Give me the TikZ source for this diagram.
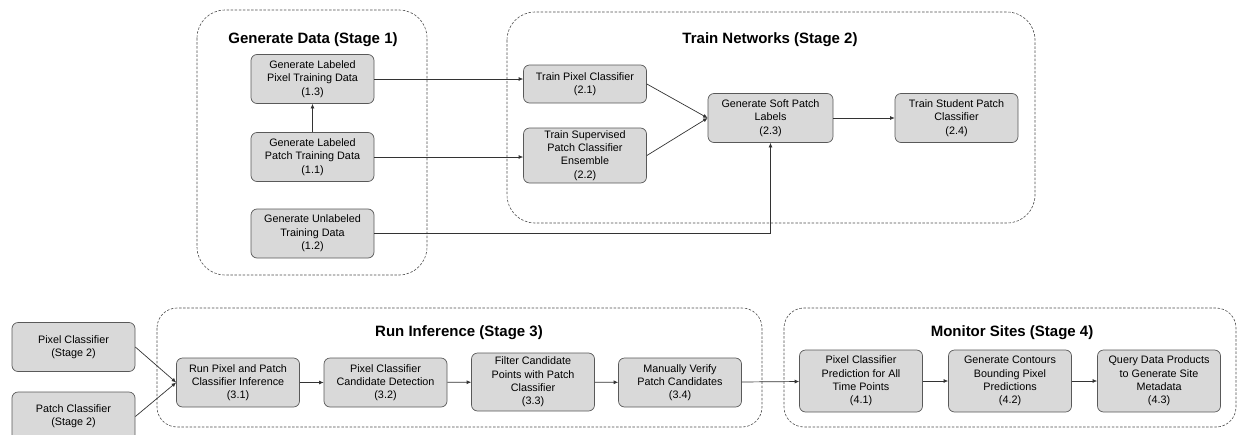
\documentclass[tikz,border=0pt]{standalone}
\usepackage{fontspec}
\setmainfont{Liberation Sans}
\usetikzlibrary{arrows.meta}

\begin{document}
\begin{tikzpicture}[x=1pt, y=-1pt,
    stepbox/.style={draw=black!65, fill=black!15, line width=0.7pt, rounded corners=6pt,
      align=center, minimum width=123pt, minimum height=49pt, inner sep=2pt,
      font=\fontsize{10.8}{13.3}\selectfont},
    stagebox/.style={draw=black!70, dash pattern=on 2.5pt off 1.6pt, line width=0.6pt},
    stagetitle/.style={font=\fontsize{15}{18}\selectfont\bfseries},
    flow/.style={draw=black!80, line width=0.7pt, -{Latex[length=4.5pt,width=4pt]}}]
  \clip (0,0) rectangle (1238,434);
  \useasboundingbox (0,0) rectangle (1238,434);
  % stage frames
  \draw[stagebox, rounded corners=28pt] (197,10) rectangle (427,275);
  \draw[stagebox, rounded corners=28pt] (507,12) rectangle (1035,223);
  \draw[stagebox, rounded corners=20pt] (157,308) rectangle (762,427);
  \draw[stagebox, rounded corners=20pt] (784,308) rectangle (1236,427);
  \node[stagetitle] (title1) at (313,40) {Generate Data (Stage 1)};
  \node[stagetitle] (title2) at (770,40) {Train Networks (Stage 2)};
  \node[stagetitle] (title3) at (459,333) {Run Inference (Stage 3)};
  \node[stagetitle] (title4) at (1012,333) {Monitor Sites (Stage 4)};
  % stage 1
  \node[stepbox] (gen13) at (312.5,79) {Generate Labeled\\Pixel Training Data\\(1.3)};
  \node[stepbox] (gen11) at (312.5,157) {Generate Labeled\\Patch Training Data\\(1.1)};
  \node[stepbox] (gen12) at (312.5,233.5) {Generate Unlabeled\\Training Data\\(1.2)};
  % stage 2
  \node[stepbox, minimum height=38pt] (pix21) at (585,84) {Train Pixel Classifier\\(2.1)};
  \node[stepbox, minimum height=55pt] (sup22) at (585,155.5) {Train Supervised\\Patch Classifier\\Ensemble\\(2.2)};
  \node[stepbox, minimum width=125pt] (soft23) at (770.5,118) {Generate Soft Patch\\Labels\\(2.3)};
  \node[stepbox] (stu24) at (956.5,118) {Train Student Patch\\Classifier\\(2.4)};
  % stage 3
  \node[stepbox] (pixcls) at (73.5,347) {Pixel Classifier\\(Stage 2)};
  \node[stepbox] (patcls) at (73.5,416.5) {Patch Classifier\\(Stage 2)};
  \node[stepbox] (run31) at (238,382.5) {Run Pixel and Patch\\Classifier Inference\\(3.1)};
  \node[stepbox] (det32) at (385.5,382.5) {Pixel Classifier\\Candidate Detection\\(3.2)};
  \node[stepbox, minimum height=58pt] (filt33) at (533,382) {Filter Candidate\\Points with Patch\\Classifier\\(3.3)};
  \node[stepbox] (ver34) at (680,382.5) {Manually Verify\\Patch Candidates\\(3.4)};
  % stage 4
  \node[stepbox, minimum height=62pt] (pred41) at (861,381) {Pixel Classifier\\Prediction for All\\Time Points\\(4.1)};
  \node[stepbox, minimum height=62pt] (cont42) at (1010,381) {Generate Contours\\Bounding Pixel\\Predictions\\(4.2)};
  \node[stepbox, minimum height=62pt] (query43) at (1159,381) {Query Data Products\\to Generate Site\\Metadata\\(4.3)};
  % connectors
  \draw[flow] (gen11.north) -- (gen13.south);
  \draw[flow] (gen13.east) -- (gen13.east -| pix21.west);
  \draw[flow] (gen11.east) -- (gen11.east -| sup22.west);
  \draw[flow] (gen12.east) -- (gen12.east -| soft23.south) -- (soft23.south);
  \draw[flow] (pix21.east) -- (soft23.west);
  \draw[flow] (sup22.east) -- (soft23.west);
  \draw[flow] (soft23.east) -- (stu24.west);
  \draw[flow] (pixcls.east) -- (run31.west);
  \draw[flow] (patcls.east) -- (run31.west);
  \draw[flow] (run31) -- (det32);
  \draw[flow] (det32) -- (filt33);
  \draw[flow] (filt33) -- (ver34);
  \draw[flow] (ver34) -- (pred41);
  \draw[flow] (pred41) -- (cont42);
  \draw[flow] (cont42) -- (query43);
\end{tikzpicture}
\end{document}
